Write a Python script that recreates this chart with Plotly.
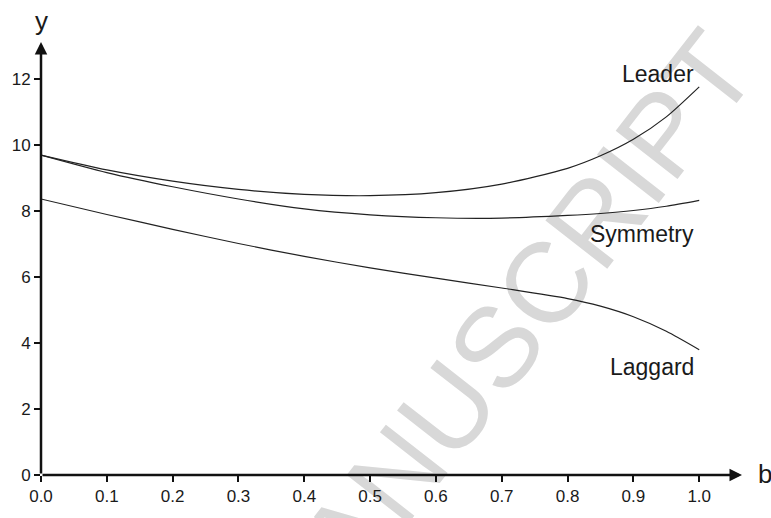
import plotly.graph_objects as go

# Sampled values of the three equilibrium curves over b
b_vals = [0.0, 0.1, 0.2, 0.3, 0.4, 0.5, 0.6, 0.7, 0.8, 0.85, 0.9, 0.95, 1.0]
leader = [9.70, 9.25, 8.91, 8.66, 8.51, 8.47, 8.56, 8.82, 9.30, 9.68, 10.18, 10.86, 11.77]
symmetry = [9.70, 9.17, 8.74, 8.37, 8.07, 7.89, 7.80, 7.79, 7.87, 7.93, 8.02, 8.15, 8.33]
laggard = [8.37, 7.90, 7.45, 7.02, 6.63, 6.28, 5.97, 5.67, 5.35, 5.12, 4.80, 4.36, 3.80]

series_names = ["Leader", "Symmetry", "Laggard"]
series_values = [leader, symmetry, laggard]
label_y = [12.15, 7.32, 3.26]

x_ticks = [0.0, 0.1, 0.2, 0.3, 0.4, 0.5, 0.6, 0.7, 0.8, 0.9, 1.0]
y_ticks = [0, 2, 4, 6, 8, 10, 12]

X_MAX = 1.065
Y_MAX = 13.13
FONT = "Liberation Sans, Arial, sans-serif"
INK = "#1a1a1a"

fig = go.Figure()

for name, vals in zip(series_names, series_values):
    fig.add_trace(go.Scatter(
        x=b_vals, y=vals, mode="lines", name=name,
        line=dict(color="#222222", width=1.2, shape="spline", smoothing=0.7),
        hoverinfo="skip", showlegend=False,
    ))

# curve labels, right-aligned near b = 1
for name, ly in zip(series_names, label_y):
    fig.add_annotation(
        x=0.995, y=ly, xref="x", yref="y", text=name, showarrow=False,
        xanchor="right", yanchor="middle",
        font=dict(family=FONT, size=23, color=INK),
    )

# axes drawn as arrows
fig.add_annotation(
    x=X_MAX, y=0, ax=0, ay=0, xref="x", yref="y", axref="x", ayref="y",
    text="", showarrow=True, arrowhead=2, arrowsize=1.0, arrowwidth=2.5,
    arrowcolor="#111111", standoff=0,
)
fig.add_annotation(
    x=0, y=Y_MAX, ax=0, ay=0, xref="x", yref="y", axref="x", ayref="y",
    text="", showarrow=True, arrowhead=2, arrowsize=1.0, arrowwidth=2.5,
    arrowcolor="#111111", standoff=0,
)

# axis letters
fig.add_annotation(
    x=0, y=1.0, xref="paper", yref="paper", text="y", showarrow=False,
    xanchor="center", yanchor="bottom", yshift=4,
    font=dict(family=FONT, size=26, color=INK),
)
fig.add_annotation(
    x=1.0, y=0, xref="paper", yref="y", text="b", showarrow=False,
    xanchor="left", yanchor="middle", xshift=14, yshift=1,
    font=dict(family=FONT, size=26, color=INK),
)

# faint diagonal watermark behind the curves
fig.add_shape(
    type="line", xref="paper", yref="paper",
    x0=0.60, x1=0.68, y0=0.318, y1=0.318,
    line=dict(width=0, color="rgba(0,0,0,0)"), layer="below",
    label=dict(text="MANUSCRIPT", textangle=-52, textposition="middle",
               xanchor="center", yanchor="middle",
               font=dict(family=FONT, size=114, color="#d8d8d8")),
)

axis_common = dict(
    showgrid=False, zeroline=False, showline=False,
    ticks="outside", ticklen=6, tickwidth=2, tickcolor="#111111",
    tickfont=dict(family=FONT, size=17, color=INK),
)

fig.update_layout(
    width=771, height=518,
    margin=dict(l=41, r=29, t=42, b=33),
    paper_bgcolor="white", plot_bgcolor="white",
    xaxis=dict(range=[0, X_MAX], tickvals=x_ticks,
               ticktext=[f"{v:.1f}" for v in x_ticks], **axis_common),
    yaxis=dict(range=[0, Y_MAX], tickvals=y_ticks,
               ticktext=[str(v) for v in y_ticks], **axis_common),
    showlegend=False,
)

fig.write_html("out.html")
